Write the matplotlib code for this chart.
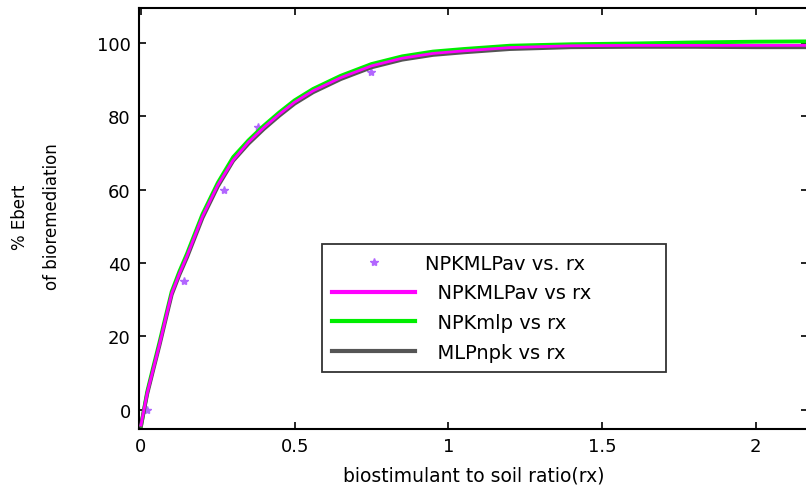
import matplotlib
matplotlib.use("Agg")
import matplotlib.pyplot as plt
from matplotlib.lines import Line2D

plt.rcParams['font.family'] = ['DejaVu Sans']

# observed points
rx_obs = [0.02, 0.14, 0.27, 0.38, 0.75]
npk_obs = [0.0, 35.0, 60.0, 77.0, 92.0]

# model curves
rx = [0, 0.02, 0.04, 0.06, 0.08, 0.10, 0.125, 0.15, 0.20, 0.25, 0.30, 0.35, 0.40,
      0.45, 0.50, 0.56, 0.65, 0.75, 0.85, 0.95, 1.05, 1.20, 1.40, 1.60, 1.80, 2.00, 2.20]
npk_mlpav = [-4.2, 4.4, 11.1, 17.7, 24.8, 31.7, 37.1, 42.0, 52.7, 61.3, 68.1, 73.0, 77.0,
             80.6, 83.9, 87.0, 90.6, 93.8, 95.9, 97.2, 97.9, 98.8, 99.3, 99.4, 99.4, 99.4, 99.4]
npk_mlp = [-4.6, 4.8, 11.6, 18.3, 25.3, 32.2, 37.7, 42.6, 53.3, 61.9, 68.9, 73.5, 77.5,
           81.1, 84.4, 87.5, 91.1, 94.3, 96.4, 97.7, 98.4, 99.3, 99.7, 99.9, 100.2, 100.4, 100.5]
mlp_npk = [-4.4, 4.2, 10.9, 17.5, 24.5, 31.4, 36.8, 41.6, 52.3, 60.9, 67.9, 72.6, 76.6,
           80.2, 83.5, 86.6, 90.2, 93.4, 95.5, 96.8, 97.5, 98.4, 98.9, 99.0, 99.0, 98.9, 98.9]

labels = ["NPKMLPav vs. rx", "  NPKMLPav vs rx", "  NPKmlp vs rx", "  MLPnpk vs rx"]
xticks = [0, 0.5, 1, 1.5, 2]
xticklabels = ['0', '0.5', '1', '1.5', '2']
yticks = [0, 20, 40, 60, 80, 100]

W, H = 806, 489
ax_l, ax_r, ax_t, ax_b = 139, 808, 9, 430
fig = plt.figure(figsize=(W/100, H/100), dpi=100)
ax = fig.add_axes([ax_l/W, 1-ax_b/H, (ax_r-ax_l)/W, (ax_b-ax_t)/H])

mk, = ax.plot(rx_obs, npk_obs, linestyle='none', marker='*', markersize=6,
              color='#b266ff', label=labels[0], zorder=2)
l1, = ax.plot(rx, npk_mlpav, color='#ff00ff', lw=2.0, label=labels[1], zorder=3.5)
l2, = ax.plot(rx, npk_mlp, color='#00ee00', lw=2.8, label=labels[2], zorder=2.5)
l3, = ax.plot(rx, mlp_npk, color='#555555', lw=2.8, label=labels[3], zorder=3)

ax.set_xlim(-0.0065, 2.1705)
ax.set_ylim(-5.3, 109.6)
ax.set_xticks(xticks)
ax.set_xticklabels(xticklabels)
ax.set_yticks(yticks)
ax.tick_params(direction='in', length=5, width=1.2, top=True, right=True,
               labelsize=13, pad=6, colors='black')
for s in ax.spines.values():
    s.set_linewidth(1.5)

ax.set_xlabel('biostimulant to soil ratio(rx)', fontsize=13.5, labelpad=7)
fig.text(20/W, 1-217/H, '% Ebert', rotation=90, ha='center', va='center', fontsize=12)
fig.text(52/W, 1-217/H, 'of bioremediation', rotation=90, ha='center', va='center', fontsize=12)

leg_handles = [
    Line2D([], [], linestyle='none', marker='*', markersize=6, color='#b266ff'),
    Line2D([], [], color='#ff00ff', lw=3),
    Line2D([], [], color='#00ee00', lw=3),
    Line2D([], [], color='#555555', lw=3),
]
aw, ah = ax_r - ax_l, ax_b - ax_t
leg = ax.legend(leg_handles, labels, loc='upper left', mode='expand',
                bbox_to_anchor=((322-ax_l)/aw, (ax_b-372)/ah, 344/aw, 127/ah),
                bbox_transform=ax.transAxes, fontsize=14, frameon=True,
                fancybox=False, edgecolor='black', handlelength=4.3,
                handletextpad=0.5, labelspacing=0.55, borderpad=0.5,
                borderaxespad=0)
leg.get_frame().set_linewidth(1.3)

fig.savefig('out.png', dpi=100)
